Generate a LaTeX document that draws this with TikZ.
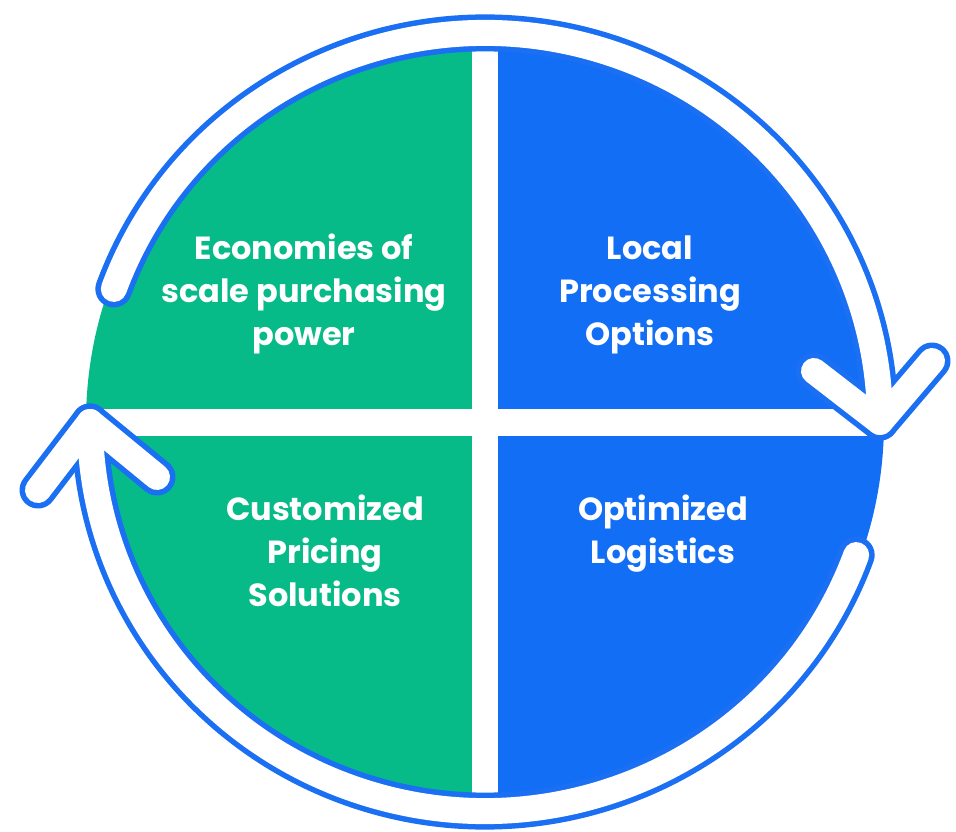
\documentclass[tikz,border=0pt]{standalone}
\usepackage{fontspec}
\setmainfont{Poppins}
\usetikzlibrary{calc}
\definecolor{qgreen}{HTML}{06BB87}
\definecolor{qblue}{HTML}{136EF6}
\definecolor{arrowblue}{HTML}{1A6FF3}
\tikzset{
  bandout/.style={draw=arrowblue, line width=37pt, line cap=round, line join=round},
  bandin/.style={draw=white, line width=26pt, line cap=round, line join=round},
  lbl/.style={text=white, font=\fontsize{32}{43}\selectfont\bfseries, align=center, anchor=base, inner sep=0pt}
}
\begin{document}
\begin{tikzpicture}[x=1pt,y=1pt]
\useasboundingbox (0,0) rectangle (956,831);
\coordinate (C) at (485,409);
% disk quadrants
\begin{scope}
  \clip (C) circle[radius=399pt];
  \fill[qgreen] (80,0) rectangle (485,831);
  \fill[qblue] (485,0) rectangle (900,831);
  \fill[white] (472,0) rectangle (498,831);
  \fill[white] (0,395) rectangle (956,422);
\end{scope}
% arrow geometry
\coordinate (t1) at ($(C)+(160:395pt and 389pt)$);
\coordinate (a1) at ($(C)+(0:395pt and 389pt)$);
\coordinate (h1l) at (814,460);
\coordinate (h1r) at (932,470);
\coordinate (t2) at ($(C)+(-20:395pt and 389pt)$);
\coordinate (a2) at ($(C)+(180:395pt and 389pt)$);
\coordinate (h2l) at (38,341);
\coordinate (h2r) at (157,354);
% outlines
\path[bandout] (t1) arc[start angle=160, end angle=0, x radius=395pt, y radius=389pt];
\path[bandout] (h1l) -- (a1) -- (h1r);
\path[bandout] (t2) arc[start angle=-20, end angle=-180, x radius=395pt, y radius=389pt];
\path[bandout] (h2l) -- (a2) -- (h2r);
% fills
\path[bandin] (t1) arc[start angle=160, end angle=0, x radius=395pt, y radius=389pt];
\path[bandin] (h1l) -- (a1) -- (h1r);
\path[bandin] (t2) arc[start angle=-20, end angle=-180, x radius=395pt, y radius=389pt];
\path[bandin] (h2l) -- (a2) -- (h2r);
% labels (anchor = baseline of last line)
\node[lbl] (econ) at (304,485) {Economies of\\scale purchasing\\power};
\node[lbl] (local) at (650,485) {Local\\Processing\\Options};
\node[lbl] (cust) at (325,225) {Customized\\Pricing\\Solutions};
\node[lbl] (opt) at (663,268) {Optimized\\Logistics};
\end{tikzpicture}
\end{document}
